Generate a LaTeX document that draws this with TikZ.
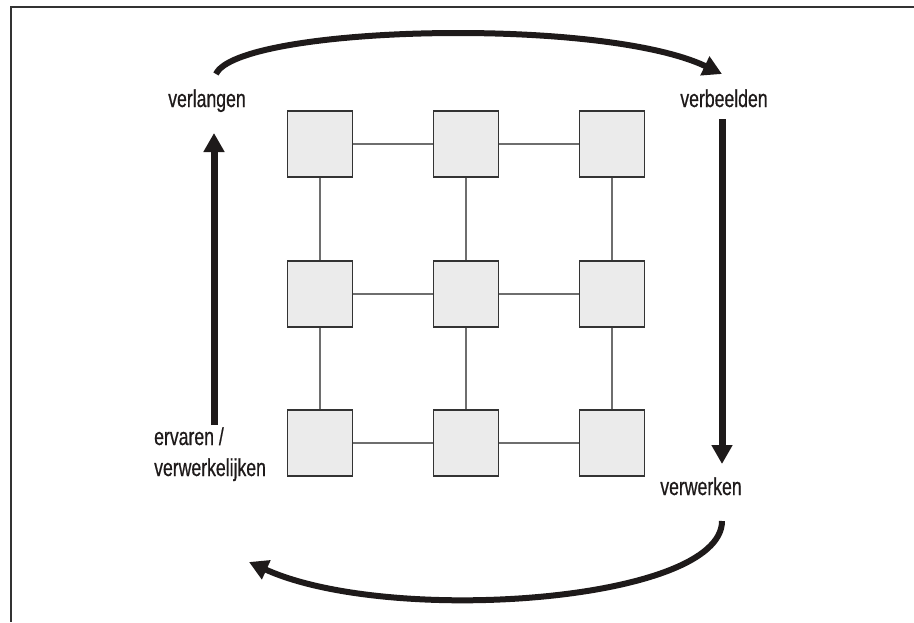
\documentclass[tikz,border=0pt]{standalone}
\usepackage{fontspec}
\setmainfont{Liberation Sans}[FakeStretch=0.72,FakeBold=0.6]
\usetikzlibrary{arrows.meta}
\definecolor{boxfill}{HTML}{EBEBEB}
\definecolor{boxline}{HTML}{333333}
\definecolor{linkline}{HTML}{6E6E6E}
\definecolor{ink}{HTML}{1E1A1A}
\begin{document}
\begin{tikzpicture}[x=1pt,y=-1pt,
  cell/.style={draw=boxline,fill=boxfill,line width=1.3pt,minimum width=65pt,minimum height=66pt,inner sep=0pt},
  link/.style={draw=linkline,line width=1.2pt},
  label/.style={font=\fontsize{24.5}{31}\selectfont,text=ink,inner sep=0pt,anchor=base},
  bigarrow/.style={draw=ink,line width=6pt,-{Triangle[width=20pt,length=19pt]}},
  frameline/.style={draw=boxline,line width=1.4pt}]
  \useasboundingbox (0,0) rectangle (914,622);
  % open frame: top and left edges
  \draw[frameline] (914,7) -- (11,7) -- (11,622);

  % 3x3 grid of cells
  \foreach \r/\y in {1/144,2/294,3/443}{
    \foreach \c/\x in {1/320,2/466,3/612}{
      \node[cell] (c\r\c) at (\x,\y) {};
    }
  }
  % links between neighbouring cells
  \foreach \r in {1,2,3}{
    \draw[link] (c\r1) -- (c\r2);
    \draw[link] (c\r2) -- (c\r3);
  }
  \foreach \c in {1,2,3}{
    \draw[link] (c1\c) -- (c2\c);
    \draw[link] (c2\c) -- (c3\c);
  }

  % cycle labels
  \node[label] (verlangen) at (207,107) {verlangen};
  \node[label] (verbeelden) at (724,107) {verbeelden};
  \node[label] (verwerken) at (701,495) {verwerken};
  \node[label,anchor=base west,align=left] (ervaren) at (154,476) {ervaren /\\verwerkelijken};

  % arrow end points
  \coordinate (topstart) at (216,74);
  \coordinate (topend) at (722,74);
  \coordinate (rightstart) at (722,119);
  \coordinate (rightend) at (722,464);
  \coordinate (botstart) at (722,521);
  \coordinate (botend) at (249,562);
  \coordinate (leftstart) at (214,425);
  \coordinate (leftend) at (214,133);

  % cycle arrows
  \draw[bigarrow] (topstart) .. controls (238,26) and (600,16) .. (topend);
  \draw[bigarrow,line width=7pt] (rightstart) -- (rightend);
  \draw[bigarrow] (botstart) .. controls (722,602) and (390,626) .. (botend);
  \draw[bigarrow,line width=7pt] (leftstart) -- (leftend);
\end{tikzpicture}
\end{document}
